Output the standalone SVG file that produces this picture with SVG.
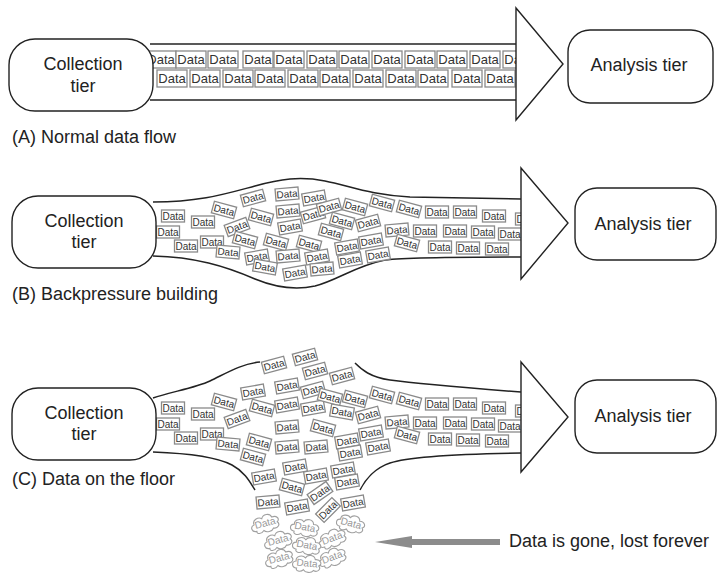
<svg xmlns="http://www.w3.org/2000/svg" width="717" height="573" viewBox="0 0 717 573">
<style>
.n{fill:#fff;stroke:#222;stroke-width:1.4}
.ln{fill:none;stroke:#222;stroke-width:1.5}
.tri{fill:#fff;stroke:#222;stroke-width:1.4;stroke-linejoin:miter}
.tx{font-family:"Liberation Sans",Arial,sans-serif;fill:#222;font-size:18px}
.c{text-anchor:middle}
.b{fill:#fff;stroke:#8a8a8a;stroke-width:1.3}
.dt{font-family:"Liberation Sans",Arial,sans-serif;fill:#333;text-anchor:middle}
.d13{font-size:13px}
.d10{font-size:10px}
.cl{fill:#fff;stroke:#a0a0a0;stroke-width:1.1}
.ct{font-family:"Liberation Sans",Arial,sans-serif;fill:#999;text-anchor:middle;font-size:10px}
</style>
<defs>
<clipPath id="clipA"><rect x="140" y="45" width="376" height="54"/></clipPath>
<clipPath id="clipBC"><rect x="0" y="0" width="521" height="573"/></clipPath>
<path id="cloud" d="M-10,6 C-15,6 -16,0 -11,-1 C-12,-6 -5,-8 -2,-5 C0,-9 7,-9 8,-4 C13,-5 16,0 12,2 C15,5 11,9 7,7 C5,10 -1,10 -3,7 C-6,10 -11,9 -10,6 Z"/>
</defs>

<g id="connectors">
<line class="ln" x1="150" y1="44" x2="516" y2="44"/>
<line class="ln" x1="150" y1="100" x2="516" y2="100"/>
<path class="ln" d="M153,202 C200,202 225,194 255,186 C280,179 300,176 325,181 C350,186 370,195 410,197 L521,199"/>
<path class="ln" d="M153,256 C195,257 225,266 255,279 C272,286 292,291 315,286 C338,280 355,266 385,260 C410,257 460,257 521,257"/>
<path class="ln" d="M153,398 C170,392 195,388 210,381 C225,374 240,364 260,362"/>
<path class="ln" d="M355,363 C362,370 370,377 390,380 C420,384 470,388 521,392"/>
<path class="ln" d="M153,452 C180,453 215,456 232,465 C245,472 250,482 255,490"/>
<path class="ln" d="M360,490 C365,480 375,468 390,463 C410,456 460,454 521,453"/>
</g>

<g id="data-a" clip-path="url(#clipA)">
<rect class="b" x="146" y="51" width="30" height="17"/><text class="dt d13" x="161" y="64">Data</text>
<rect class="b" x="176" y="51" width="30" height="17"/><text class="dt d13" x="191" y="64">Data</text>
<rect class="b" x="208" y="51" width="30" height="17"/><text class="dt d13" x="223" y="64">Data</text>
<rect class="b" x="243" y="51" width="30" height="17"/><text class="dt d13" x="258" y="64">Data</text>
<rect class="b" x="274" y="51" width="30" height="17"/><text class="dt d13" x="289" y="64">Data</text>
<rect class="b" x="307" y="51" width="30" height="17"/><text class="dt d13" x="322" y="64">Data</text>
<rect class="b" x="339" y="51" width="30" height="17"/><text class="dt d13" x="354" y="64">Data</text>
<rect class="b" x="372" y="51" width="30" height="17"/><text class="dt d13" x="387" y="64">Data</text>
<rect class="b" x="405" y="51" width="30" height="17"/><text class="dt d13" x="420" y="64">Data</text>
<rect class="b" x="437" y="51" width="30" height="17"/><text class="dt d13" x="452" y="64">Data</text>
<rect class="b" x="470" y="51" width="30" height="17"/><text class="dt d13" x="485" y="64">Data</text>
<rect class="b" x="503" y="51" width="30" height="17"/><text class="dt d13" x="518" y="64">Data</text>
<rect class="b" x="157" y="70" width="30" height="17"/><text class="dt d13" x="172" y="83">Data</text>
<rect class="b" x="190" y="70" width="30" height="17"/><text class="dt d13" x="205" y="83">Data</text>
<rect class="b" x="223" y="70" width="30" height="17"/><text class="dt d13" x="238" y="83">Data</text>
<rect class="b" x="255" y="70" width="30" height="17"/><text class="dt d13" x="270" y="83">Data</text>
<rect class="b" x="288" y="70" width="30" height="17"/><text class="dt d13" x="303" y="83">Data</text>
<rect class="b" x="320" y="70" width="30" height="17"/><text class="dt d13" x="335" y="83">Data</text>
<rect class="b" x="353" y="70" width="30" height="17"/><text class="dt d13" x="368" y="83">Data</text>
<rect class="b" x="386" y="70" width="30" height="17"/><text class="dt d13" x="401" y="83">Data</text>
<rect class="b" x="418" y="70" width="30" height="17"/><text class="dt d13" x="433" y="83">Data</text>
<rect class="b" x="452" y="70" width="30" height="17"/><text class="dt d13" x="467" y="83">Data</text>
<rect class="b" x="485" y="70" width="30" height="17"/><text class="dt d13" x="500" y="83">Data</text>
</g>

<g id="data-b" clip-path="url(#clipBC)">
<g transform="translate(173,216)"><rect class="b" x="-11.5" y="-6" width="23" height="12"/><text class="dt d10" y="3.5">Data</text></g>
<g transform="translate(203,222)"><rect class="b" x="-11.5" y="-6" width="23" height="12"/><text class="dt d10" y="3.5">Data</text></g>
<g transform="translate(168,232)"><rect class="b" x="-11.5" y="-6" width="23" height="12"/><text class="dt d10" y="3.5">Data</text></g>
<g transform="translate(186,246)"><rect class="b" x="-11.5" y="-6" width="23" height="12"/><text class="dt d10" y="3.5">Data</text></g>
<g transform="translate(212,242)"><rect class="b" x="-11.5" y="-6" width="23" height="12"/><text class="dt d10" y="3.5">Data</text></g>
<g transform="translate(224,210) rotate(15)"><rect class="b" x="-11.5" y="-6" width="23" height="12"/><text class="dt d10" y="3.5">Data</text></g>
<g transform="translate(228,252) rotate(5)"><rect class="b" x="-11.5" y="-6" width="23" height="12"/><text class="dt d10" y="3.5">Data</text></g>
<g transform="translate(237,227) rotate(-20)"><rect class="b" x="-11.5" y="-6" width="23" height="12"/><text class="dt d10" y="3.5">Data</text></g>
<g transform="translate(245,240) rotate(15)"><rect class="b" x="-11.5" y="-6" width="23" height="12"/><text class="dt d10" y="3.5">Data</text></g>
<g transform="translate(253,198) rotate(-15)"><rect class="b" x="-11.5" y="-6" width="23" height="12"/><text class="dt d10" y="3.5">Data</text></g>
<g transform="translate(261,217) rotate(15)"><rect class="b" x="-11.5" y="-6" width="23" height="12"/><text class="dt d10" y="3.5">Data</text></g>
<g transform="translate(257,257) rotate(-10)"><rect class="b" x="-11.5" y="-6" width="23" height="12"/><text class="dt d10" y="3.5">Data</text></g>
<g transform="translate(265,267) rotate(10)"><rect class="b" x="-11.5" y="-6" width="23" height="12"/><text class="dt d10" y="3.5">Data</text></g>
<g transform="translate(276,242) rotate(15)"><rect class="b" x="-11.5" y="-6" width="23" height="12"/><text class="dt d10" y="3.5">Data</text></g>
<g transform="translate(287,194) rotate(-5)"><rect class="b" x="-11.5" y="-6" width="23" height="12"/><text class="dt d10" y="3.5">Data</text></g>
<g transform="translate(288,211) rotate(-5)"><rect class="b" x="-11.5" y="-6" width="23" height="12"/><text class="dt d10" y="3.5">Data</text></g>
<g transform="translate(290,227) rotate(-10)"><rect class="b" x="-11.5" y="-6" width="23" height="12"/><text class="dt d10" y="3.5">Data</text></g>
<g transform="translate(288,256) rotate(-5)"><rect class="b" x="-11.5" y="-6" width="23" height="12"/><text class="dt d10" y="3.5">Data</text></g>
<g transform="translate(295,273) rotate(-10)"><rect class="b" x="-11.5" y="-6" width="23" height="12"/><text class="dt d10" y="3.5">Data</text></g>
<g transform="translate(309,244) rotate(15)"><rect class="b" x="-11.5" y="-6" width="23" height="12"/><text class="dt d10" y="3.5">Data</text></g>
<g transform="translate(314,198) rotate(-10)"><rect class="b" x="-11.5" y="-6" width="23" height="12"/><text class="dt d10" y="3.5">Data</text></g>
<g transform="translate(313,215) rotate(-15)"><rect class="b" x="-11.5" y="-6" width="23" height="12"/><text class="dt d10" y="3.5">Data</text></g>
<g transform="translate(317,257) rotate(-10)"><rect class="b" x="-11.5" y="-6" width="23" height="12"/><text class="dt d10" y="3.5">Data</text></g>
<g transform="translate(322,269) rotate(-5)"><rect class="b" x="-11.5" y="-6" width="23" height="12"/><text class="dt d10" y="3.5">Data</text></g>
<g transform="translate(331,232) rotate(15)"><rect class="b" x="-11.5" y="-6" width="23" height="12"/><text class="dt d10" y="3.5">Data</text></g>
<g transform="translate(329,207) rotate(-15)"><rect class="b" x="-11.5" y="-6" width="23" height="12"/><text class="dt d10" y="3.5">Data</text></g>
<g transform="translate(342,221) rotate(15)"><rect class="b" x="-11.5" y="-6" width="23" height="12"/><text class="dt d10" y="3.5">Data</text></g>
<g transform="translate(347,247) rotate(-10)"><rect class="b" x="-11.5" y="-6" width="23" height="12"/><text class="dt d10" y="3.5">Data</text></g>
<g transform="translate(350,260) rotate(-10)"><rect class="b" x="-11.5" y="-6" width="23" height="12"/><text class="dt d10" y="3.5">Data</text></g>
<g transform="translate(355,207) rotate(15)"><rect class="b" x="-11.5" y="-6" width="23" height="12"/><text class="dt d10" y="3.5">Data</text></g>
<g transform="translate(368,223) rotate(-15)"><rect class="b" x="-11.5" y="-6" width="23" height="12"/><text class="dt d10" y="3.5">Data</text></g>
<g transform="translate(382,203) rotate(15)"><rect class="b" x="-11.5" y="-6" width="23" height="12"/><text class="dt d10" y="3.5">Data</text></g>
<g transform="translate(409,209) rotate(15)"><rect class="b" x="-11.5" y="-6" width="23" height="12"/><text class="dt d10" y="3.5">Data</text></g>
<g transform="translate(397,230) rotate(-5)"><rect class="b" x="-11.5" y="-6" width="23" height="12"/><text class="dt d10" y="3.5">Data</text></g>
<g transform="translate(371,241) rotate(-10)"><rect class="b" x="-11.5" y="-6" width="23" height="12"/><text class="dt d10" y="3.5">Data</text></g>
<g transform="translate(378,255) rotate(-10)"><rect class="b" x="-11.5" y="-6" width="23" height="12"/><text class="dt d10" y="3.5">Data</text></g>
<g transform="translate(407,243) rotate(15)"><rect class="b" x="-11.5" y="-6" width="23" height="12"/><text class="dt d10" y="3.5">Data</text></g>
<g transform="translate(437,212)"><rect class="b" x="-11.5" y="-6" width="23" height="12"/><text class="dt d10" y="3.5">Data</text></g>
<g transform="translate(465,212)"><rect class="b" x="-11.5" y="-6" width="23" height="12"/><text class="dt d10" y="3.5">Data</text></g>
<g transform="translate(494,216)"><rect class="b" x="-11.5" y="-6" width="23" height="12"/><text class="dt d10" y="3.5">Data</text></g>
<g transform="translate(527,219)"><rect class="b" x="-11.5" y="-6" width="23" height="12"/><text class="dt d10" y="3.5">Data</text></g>
<g transform="translate(425,231)"><rect class="b" x="-11.5" y="-6" width="23" height="12"/><text class="dt d10" y="3.5">Data</text></g>
<g transform="translate(455,231)"><rect class="b" x="-11.5" y="-6" width="23" height="12"/><text class="dt d10" y="3.5">Data</text></g>
<g transform="translate(483,232)"><rect class="b" x="-11.5" y="-6" width="23" height="12"/><text class="dt d10" y="3.5">Data</text></g>
<g transform="translate(510,234)"><rect class="b" x="-11.5" y="-6" width="23" height="12"/><text class="dt d10" y="3.5">Data</text></g>
<g transform="translate(440,247)"><rect class="b" x="-11.5" y="-6" width="23" height="12"/><text class="dt d10" y="3.5">Data</text></g>
<g transform="translate(468,248)"><rect class="b" x="-11.5" y="-6" width="23" height="12"/><text class="dt d10" y="3.5">Data</text></g>
<g transform="translate(497,249)"><rect class="b" x="-11.5" y="-6" width="23" height="12"/><text class="dt d10" y="3.5">Data</text></g>
</g>

<g id="data-c" clip-path="url(#clipBC)">
<g transform="translate(173,408)"><rect class="b" x="-11.5" y="-6" width="23" height="12"/><text class="dt d10" y="3.5">Data</text></g>
<g transform="translate(203,414)"><rect class="b" x="-11.5" y="-6" width="23" height="12"/><text class="dt d10" y="3.5">Data</text></g>
<g transform="translate(168,424)"><rect class="b" x="-11.5" y="-6" width="23" height="12"/><text class="dt d10" y="3.5">Data</text></g>
<g transform="translate(186,438)"><rect class="b" x="-11.5" y="-6" width="23" height="12"/><text class="dt d10" y="3.5">Data</text></g>
<g transform="translate(212,434)"><rect class="b" x="-11.5" y="-6" width="23" height="12"/><text class="dt d10" y="3.5">Data</text></g>
<g transform="translate(224,402) rotate(15)"><rect class="b" x="-11.5" y="-6" width="23" height="12"/><text class="dt d10" y="3.5">Data</text></g>
<g transform="translate(228,444) rotate(5)"><rect class="b" x="-11.5" y="-6" width="23" height="12"/><text class="dt d10" y="3.5">Data</text></g>
<g transform="translate(237,419) rotate(-20)"><rect class="b" x="-11.5" y="-6" width="23" height="12"/><text class="dt d10" y="3.5">Data</text></g>
<g transform="translate(274,365) rotate(-15)"><rect class="b" x="-11.5" y="-6" width="23" height="12"/><text class="dt d10" y="3.5">Data</text></g>
<g transform="translate(305,357) rotate(-15)"><rect class="b" x="-11.5" y="-6" width="23" height="12"/><text class="dt d10" y="3.5">Data</text></g>
<g transform="translate(315,371) rotate(-15)"><rect class="b" x="-11.5" y="-6" width="23" height="12"/><text class="dt d10" y="3.5">Data</text></g>
<g transform="translate(342,376) rotate(-15)"><rect class="b" x="-11.5" y="-6" width="23" height="12"/><text class="dt d10" y="3.5">Data</text></g>
<g transform="translate(253,392) rotate(-10)"><rect class="b" x="-11.5" y="-6" width="23" height="12"/><text class="dt d10" y="3.5">Data</text></g>
<g transform="translate(287,386) rotate(-10)"><rect class="b" x="-11.5" y="-6" width="23" height="12"/><text class="dt d10" y="3.5">Data</text></g>
<g transform="translate(313,390) rotate(-15)"><rect class="b" x="-11.5" y="-6" width="23" height="12"/><text class="dt d10" y="3.5">Data</text></g>
<g transform="translate(262,408) rotate(15)"><rect class="b" x="-11.5" y="-6" width="23" height="12"/><text class="dt d10" y="3.5">Data</text></g>
<g transform="translate(287,405) rotate(-10)"><rect class="b" x="-11.5" y="-6" width="23" height="12"/><text class="dt d10" y="3.5">Data</text></g>
<g transform="translate(313,408) rotate(-10)"><rect class="b" x="-11.5" y="-6" width="23" height="12"/><text class="dt d10" y="3.5">Data</text></g>
<g transform="translate(330,397) rotate(15)"><rect class="b" x="-11.5" y="-6" width="23" height="12"/><text class="dt d10" y="3.5">Data</text></g>
<g transform="translate(342,412) rotate(10)"><rect class="b" x="-11.5" y="-6" width="23" height="12"/><text class="dt d10" y="3.5">Data</text></g>
<g transform="translate(287,427) rotate(-5)"><rect class="b" x="-11.5" y="-6" width="23" height="12"/><text class="dt d10" y="3.5">Data</text></g>
<g transform="translate(323,428) rotate(15)"><rect class="b" x="-11.5" y="-6" width="23" height="12"/><text class="dt d10" y="3.5">Data</text></g>
<g transform="translate(259,442) rotate(15)"><rect class="b" x="-11.5" y="-6" width="23" height="12"/><text class="dt d10" y="3.5">Data</text></g>
<g transform="translate(287,447) rotate(-5)"><rect class="b" x="-11.5" y="-6" width="23" height="12"/><text class="dt d10" y="3.5">Data</text></g>
<g transform="translate(316,447) rotate(-5)"><rect class="b" x="-11.5" y="-6" width="23" height="12"/><text class="dt d10" y="3.5">Data</text></g>
<g transform="translate(347,441) rotate(-10)"><rect class="b" x="-11.5" y="-6" width="23" height="12"/><text class="dt d10" y="3.5">Data</text></g>
<g transform="translate(253,457) rotate(15)"><rect class="b" x="-11.5" y="-6" width="23" height="12"/><text class="dt d10" y="3.5">Data</text></g>
<g transform="translate(350,453) rotate(-10)"><rect class="b" x="-11.5" y="-6" width="23" height="12"/><text class="dt d10" y="3.5">Data</text></g>
<g transform="translate(295,467) rotate(-10)"><rect class="b" x="-11.5" y="-6" width="23" height="12"/><text class="dt d10" y="3.5">Data</text></g>
<g transform="translate(264,477) rotate(-10)"><rect class="b" x="-11.5" y="-6" width="23" height="12"/><text class="dt d10" y="3.5">Data</text></g>
<g transform="translate(316,476) rotate(-10)"><rect class="b" x="-11.5" y="-6" width="23" height="12"/><text class="dt d10" y="3.5">Data</text></g>
<g transform="translate(343,470) rotate(-10)"><rect class="b" x="-11.5" y="-6" width="23" height="12"/><text class="dt d10" y="3.5">Data</text></g>
<g transform="translate(347,482) rotate(-10)"><rect class="b" x="-11.5" y="-6" width="23" height="12"/><text class="dt d10" y="3.5">Data</text></g>
<g transform="translate(292,487) rotate(15)"><rect class="b" x="-11.5" y="-6" width="23" height="12"/><text class="dt d10" y="3.5">Data</text></g>
<g transform="translate(320,493) rotate(-35)"><rect class="b" x="-11.5" y="-6" width="23" height="12"/><text class="dt d10" y="3.5">Data</text></g>
<g transform="translate(268,502) rotate(-5)"><rect class="b" x="-11.5" y="-6" width="23" height="12"/><text class="dt d10" y="3.5">Data</text></g>
<g transform="translate(297,507) rotate(-10)"><rect class="b" x="-11.5" y="-6" width="23" height="12"/><text class="dt d10" y="3.5">Data</text></g>
<g transform="translate(328,510) rotate(-45)"><rect class="b" x="-11.5" y="-6" width="23" height="12"/><text class="dt d10" y="3.5">Data</text></g>
<g transform="translate(353,503) rotate(-10)"><rect class="b" x="-11.5" y="-6" width="23" height="12"/><text class="dt d10" y="3.5">Data</text></g>
<g transform="translate(355,399) rotate(15)"><rect class="b" x="-11.5" y="-6" width="23" height="12"/><text class="dt d10" y="3.5">Data</text></g>
<g transform="translate(368,415) rotate(-15)"><rect class="b" x="-11.5" y="-6" width="23" height="12"/><text class="dt d10" y="3.5">Data</text></g>
<g transform="translate(382,395) rotate(15)"><rect class="b" x="-11.5" y="-6" width="23" height="12"/><text class="dt d10" y="3.5">Data</text></g>
<g transform="translate(409,401) rotate(15)"><rect class="b" x="-11.5" y="-6" width="23" height="12"/><text class="dt d10" y="3.5">Data</text></g>
<g transform="translate(397,422) rotate(-5)"><rect class="b" x="-11.5" y="-6" width="23" height="12"/><text class="dt d10" y="3.5">Data</text></g>
<g transform="translate(371,433) rotate(-10)"><rect class="b" x="-11.5" y="-6" width="23" height="12"/><text class="dt d10" y="3.5">Data</text></g>
<g transform="translate(378,447) rotate(-10)"><rect class="b" x="-11.5" y="-6" width="23" height="12"/><text class="dt d10" y="3.5">Data</text></g>
<g transform="translate(407,435) rotate(15)"><rect class="b" x="-11.5" y="-6" width="23" height="12"/><text class="dt d10" y="3.5">Data</text></g>
<g transform="translate(437,404)"><rect class="b" x="-11.5" y="-6" width="23" height="12"/><text class="dt d10" y="3.5">Data</text></g>
<g transform="translate(465,404)"><rect class="b" x="-11.5" y="-6" width="23" height="12"/><text class="dt d10" y="3.5">Data</text></g>
<g transform="translate(494,408)"><rect class="b" x="-11.5" y="-6" width="23" height="12"/><text class="dt d10" y="3.5">Data</text></g>
<g transform="translate(527,411)"><rect class="b" x="-11.5" y="-6" width="23" height="12"/><text class="dt d10" y="3.5">Data</text></g>
<g transform="translate(425,423)"><rect class="b" x="-11.5" y="-6" width="23" height="12"/><text class="dt d10" y="3.5">Data</text></g>
<g transform="translate(455,423)"><rect class="b" x="-11.5" y="-6" width="23" height="12"/><text class="dt d10" y="3.5">Data</text></g>
<g transform="translate(483,424)"><rect class="b" x="-11.5" y="-6" width="23" height="12"/><text class="dt d10" y="3.5">Data</text></g>
<g transform="translate(510,426)"><rect class="b" x="-11.5" y="-6" width="23" height="12"/><text class="dt d10" y="3.5">Data</text></g>
<g transform="translate(440,439)"><rect class="b" x="-11.5" y="-6" width="23" height="12"/><text class="dt d10" y="3.5">Data</text></g>
<g transform="translate(468,440)"><rect class="b" x="-11.5" y="-6" width="23" height="12"/><text class="dt d10" y="3.5">Data</text></g>
<g transform="translate(497,441)"><rect class="b" x="-11.5" y="-6" width="23" height="12"/><text class="dt d10" y="3.5">Data</text></g>
</g>

<g id="lost-data">
<g transform="translate(265,523) rotate(-15)"><use href="#cloud" class="cl"/><text class="ct" y="3.5">Data</text></g>
<g transform="translate(305,527) rotate(10)"><use href="#cloud" class="cl"/><text class="ct" y="3.5">Data</text></g>
<g transform="translate(351,523) rotate(15)"><use href="#cloud" class="cl"/><text class="ct" y="3.5">Data</text></g>
<g transform="translate(278,540) rotate(-15)"><use href="#cloud" class="cl"/><text class="ct" y="3.5">Data</text></g>
<g transform="translate(332,538) rotate(-20)"><use href="#cloud" class="cl"/><text class="ct" y="3.5">Data</text></g>
<g transform="translate(307,545) rotate(10)"><use href="#cloud" class="cl"/><text class="ct" y="3.5">Data</text></g>
<g transform="translate(279,558) rotate(-15)"><use href="#cloud" class="cl"/><text class="ct" y="3.5">Data</text></g>
<g transform="translate(332,557) rotate(-20)"><use href="#cloud" class="cl"/><text class="ct" y="3.5">Data</text></g>
<g transform="translate(307,563) rotate(5)"><use href="#cloud" class="cl"/><text class="ct" y="3.5">Data</text></g>
</g>

<g id="arrows">
<polygon class="tri" points="516,8 563,64 516,120"/>
<polygon class="tri" points="521,168 568,223 521,279"/>
<polygon class="tri" points="521,362 568,417 521,472"/>
<line x1="408" y1="542" x2="500" y2="542" stroke="#8c8c8c" stroke-width="6"/>
<polygon points="375,542 412,536 412,548" fill="#8c8c8c"/>
</g>

<g id="collection-a"><rect class="n" x="9" y="39" width="144" height="72" rx="26"/><text class="tx c" x="83" y="70">Collection</text><text class="tx c" x="83" y="92">tier</text></g>
<g id="analysis-a"><rect class="n" x="568" y="30" width="145" height="73" rx="22"/><text class="tx c" x="639" y="71">Analysis tier</text></g>
<g id="collection-b"><rect class="n" x="12" y="196" width="144" height="72" rx="26"/><text class="tx c" x="84" y="227">Collection</text><text class="tx c" x="84" y="248">tier</text></g>
<g id="analysis-b"><rect class="n" x="575" y="188" width="141" height="72" rx="22"/><text class="tx c" x="643" y="230">Analysis tier</text></g>
<g id="collection-c"><rect class="n" x="12" y="388" width="144" height="72" rx="26"/><text class="tx c" x="84" y="419">Collection</text><text class="tx c" x="84" y="440">tier</text></g>
<g id="analysis-c"><rect class="n" x="575" y="380" width="141" height="73" rx="22"/><text class="tx c" x="643" y="422">Analysis tier</text></g>

<g id="labels">
<text class="tx" x="12" y="143">(A) Normal data flow</text>
<text class="tx" x="12" y="300">(B) Backpressure building</text>
<text class="tx" x="12" y="485">(C) Data on the floor</text>
<text class="tx" x="509" y="547">Data is gone, lost forever</text>
</g>
</svg>
